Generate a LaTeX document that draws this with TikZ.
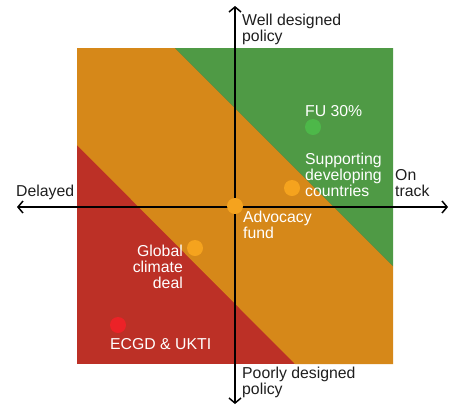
\documentclass[tikz,border=0pt]{standalone}
\usepackage{fontspec}
\setmainfont{Liberation Sans}
\usetikzlibrary{positioning,arrows.meta}
\definecolor{feldgruen}{HTML}{4F9A45}
\definecolor{feldorange}{HTML}{D68819}
\definecolor{feldrot}{HTML}{BC3026}
\definecolor{punktgruen}{HTML}{4DB849}
\definecolor{punktorange}{HTML}{F5A31E}
\definecolor{punktrot}{HTML}{EC2227}
\definecolor{schrift}{HTML}{1E1E1E}
\begin{document}
\begin{tikzpicture}[x=1pt,y=-1pt,
  punkt/.style={circle,inner sep=0pt,minimum size=16pt},
  txt/.style={inner sep=0pt,align=left,font=\fontsize{15.8}{15.8}\selectfont},
  achse/.style={line width=2pt,{Straight Barb[length=5pt,width=12pt,line width=1.5pt]}-{Straight Barb[length=5pt,width=12pt,line width=1.5pt]}}]
\useasboundingbox (0,0) rectangle (449,405);
% Flaechen
\fill[feldrot] (77,48) rectangle (393,364);
\fill[feldorange] (77,48) -- (175,48) -- (393,266) -- (393,364) -- (295,364) -- (77,145) -- cycle;
\fill[feldgruen] (175,48) -- (393,48) -- (393,266) -- cycle;
% Achsen
\coordinate (oben) at (235,6);
\coordinate (unten) at (235,404);
\coordinate (links) at (17,207);
\coordinate (rechts) at (448,207);
\draw[achse] (unten) -- (oben);
\draw[achse] (links) -- (rechts);
% Punkte
\node[punkt,fill=punktgruen] (fu) at (313,127) {};
\node[punkt,fill=punktorange] (sdc) at (292,188) {};
\node[punkt,fill=punktorange] (adv) at (235,206) {};
\node[punkt,fill=punktorange] (gcd) at (195,248) {};
\node[punkt,fill=punktrot] (ecgd) at (118,325) {};
% Beschriftungen
\node[txt,text=schrift,anchor=north west] (well) at (242,14) {Well designed\\policy};
\node[txt,text=schrift,anchor=north west] (poorly) at (242,367) {Poorly designed\\policy};
\node[txt,text=schrift,anchor=north west] (delayed) at (16,185) {Delayed};
\node[txt,text=schrift,anchor=north west] (ontrack) at (395,169) {On\\track};
\node[txt,text=white,anchor=north west] (fulab) at (305,105) {FU 30\%};
\node[txt,text=white,anchor=north west] (sdclab) at (305,153) {Supporting\\developing\\countries};
\node[txt,text=white,anchor=north west] (advlab) at (243,211) {Advocacy\\fund};
\node[txt,text=white,anchor=north east,align=right] (gcdlab) at (183,245) {Global\\climate\\deal};
\node[txt,text=white,anchor=north west] (ecgdlab) at (110,338) {ECGD \& UKTI};
\end{tikzpicture}
\end{document}
